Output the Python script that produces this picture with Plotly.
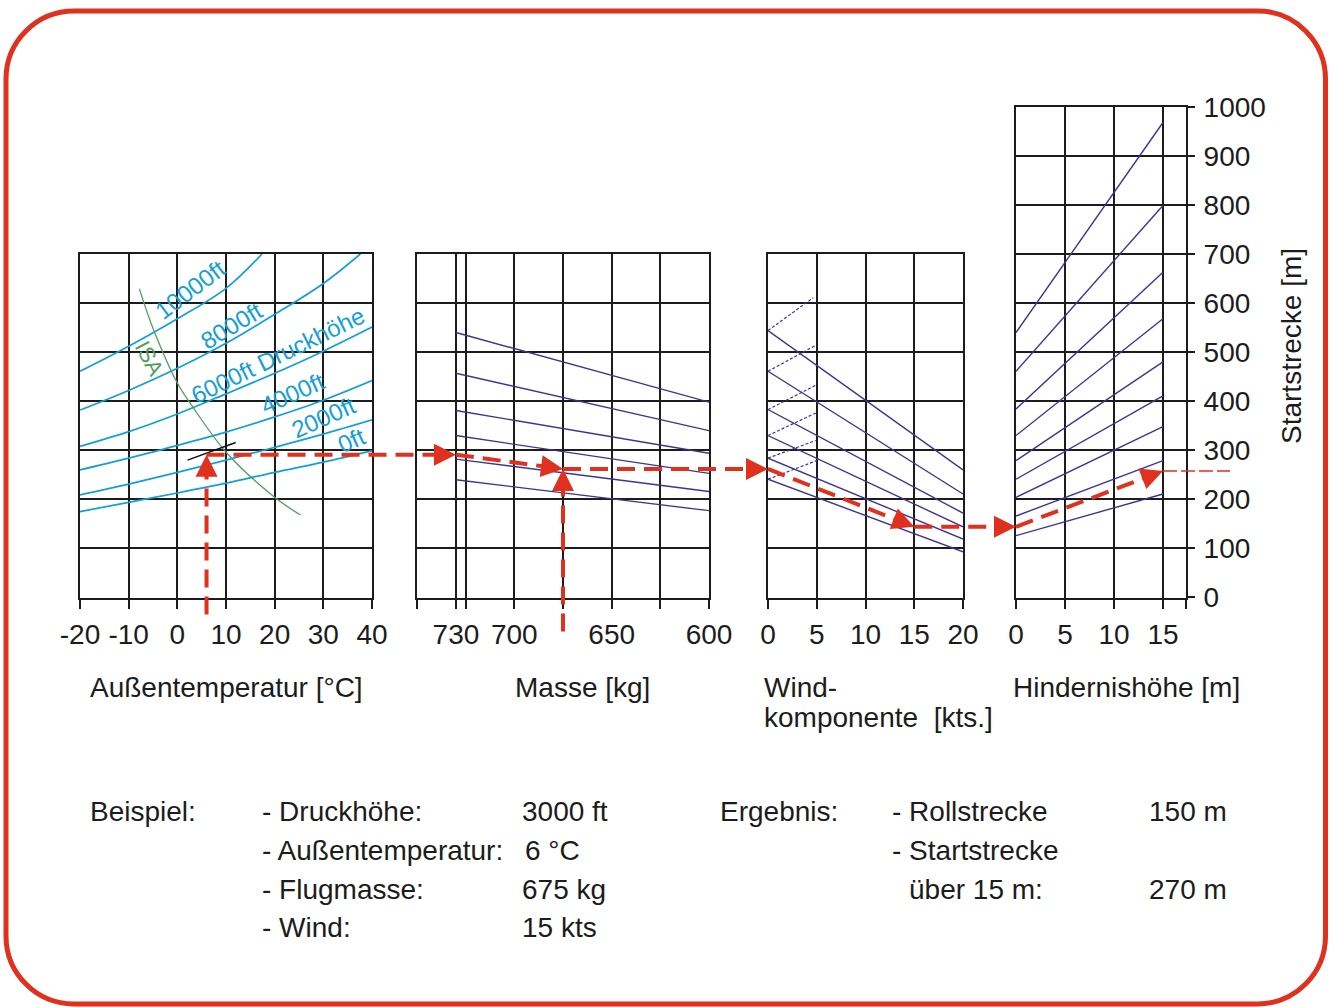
import plotly.graph_objects as go

# ======================= DATA =======================
temp_ticks = [-20, -10, 0, 10, 20, 30, 40]
temp_ticktext = ["-20", "-10", "0", "10", "20", "30", "40"]
mass_ticks = [730, 700, 650, 600]
mass_grid = [750, 725, 700, 675, 650, 625, 600]
wind_ticks = [0, 5, 10, 15, 20]
obst_ticks = [0, 5, 10, 15]
dist_ticks_low = [0, 100, 200, 300, 400, 500, 600, 700]
dist_ticks = [0, 100, 200, 300, 400, 500, 600, 700, 800, 900, 1000]

# pressure-altitude curves: temperature [°C] -> distance [m]
alt_names = ["0ft", "2000ft", "4000ft", "6000ft Druckhöhe", "8000ft", "10000ft"]
alt0_T = [-20, -10, 0, 10, 20, 30, 40]
alt0_D = [175, 194, 213, 233, 255, 276, 299]
alt2000_T = [-20, -10, 0, 10, 20, 30, 40]
alt2000_D = [209, 231, 255, 280, 306, 333, 362]
alt4000_T = [-20, -10, 0, 10, 20, 30, 40]
alt4000_D = [260, 284, 310, 337, 368, 402, 442]
alt6000_T = [-20, -10, 0, 10, 20, 30, 40]
alt6000_D = [308, 338, 374, 415, 457, 502, 551]
alt8000_T = [-20, -10, 0, 10, 20, 30, 37.6]
alt8000_D = [382, 422, 467, 518, 577, 640, 700]
alt10000_T = [-20, -10, 0, 10, 17.4]
alt10000_D = [461, 512, 568, 630, 700]

# ISA line
isa_T = [-7.8, -4.9, 0, 3.4, 10.2, 19.8, 25.3]
isa_D = [629, 546, 437, 385, 294, 206, 168]

# mass panel: lines from 730 kg to 600 kg
mass_from, mass_to = 730, 600
mass_left_D = [540, 457, 381, 330, 282, 240]
mass_right_D = [398, 340, 294, 253, 216, 177]

# wind panel: headwind lines 0 -> 20 kts, tailwind (dotted) 0 -> ~5 kts
wind_from, wind_to = 0, 20
wind_left_D = [544, 461, 383, 330, 284, 241]
wind_right_D = [260, 211, 172, 144, 119, 93]
tail_end_W = [4.65, 4.9, 4.85, 4.9, 4.9, 5.0]
tail_end_D = [611, 514, 432, 376, 320, 279]

# obstacle panel: lines 0 m -> 15 m
obst_from, obst_to = 0, 15
obst_left_D = [540, 461, 384, 330, 279, 241, 204, 166, 126]
obst_right_D = [968, 799, 663, 568, 480, 411, 348, 279, 211]

# worked example
ex_alt = 3000
ex_temp = 6
ex_mass = 675
ex_wind = 15
ex_obst = 15
ex_mark_T = [2.1, 12.0]
ex_mark_D = [280, 316]
guide_D_alt = 291
guide_D_mass = 262
guide_D_wind = 144
guide_D_obst = 258
res_roll = 150
res_start = 270

# ======================= LAYOUT / STYLE =======================
W, H = 1333, 1007
FONT = "Liberation Sans, Arial, sans-serif"
INK = "#1c1c1c"
RED = "#e0301e"
CYAN = "#139fd8"
INDIGO = "#3d3397"
GREEN = "#4f9f5f"
GW = 2

Y0 = 597.5                      # pixel row of distance 0
YS = (597.5 - 254.0) / 700.0    # pixels per metre
PANELS = {
    1: dict(px=(80, 372), rng=(-20, 40)),
    2: dict(px=(417, 709), rng=(750, 600)),
    3: dict(px=(768, 963), rng=(0, 20)),
    4: dict(px=(1016, 1186), rng=(0, 17.35)),
}


def xp(panel, v):
    p = PANELS[panel]
    (a0, a1), (r0, r1) = p["px"], p["rng"]
    return a0 + (v - r0) / (r1 - r0) * (a1 - a0)


def yp(d):
    return Y0 - d * YS


def fx(px):
    return px / W


def fy(py):
    return 1 - py / H


tickfont = dict(family=FONT, size=28, color=INK)


def xaxis(panel, tickvals, anchor, **kw):
    p = PANELS[panel]
    d = dict(domain=[fx(p["px"][0]), fx(p["px"][1])], range=list(p["rng"]),
             tickmode="array", tickvals=tickvals, showgrid=True, gridcolor=INK,
             gridwidth=GW, ticks="outside", ticklen=9, tickwidth=GW, tickcolor=INK,
             showline=True, linecolor=INK, linewidth=GW, mirror=True,
             zeroline=False, tickfont=tickfont, ticklabelstandoff=2, tickangle=0,
             automargin=False, anchor=anchor, fixedrange=True)
    d.update(kw)
    return d


def yaxis(anchor, top_px, rng, tickvals, **kw):
    d = dict(domain=[fy(Y0), fy(top_px)], range=rng, tickmode="array",
             tickvals=tickvals, showgrid=True, gridcolor=INK, gridwidth=GW,
             showticklabels=False, ticks="", showline=True, linecolor=INK,
             linewidth=GW, mirror=True, zeroline=False, anchor=anchor,
             automargin=False, fixedrange=True)
    d.update(kw)
    return d


fig = go.Figure()


def line(xs, ys, xa, ya, color, width, dash="solid", shape="linear"):
    fig.add_trace(go.Scatter(x=xs, y=ys, xaxis=xa, yaxis=ya, mode="lines",
                             line=dict(color=color, width=width, dash=dash,
                                       shape=shape, smoothing=1.0),
                             hoverinfo="skip", showlegend=False))


# ---- panel 1: temperature / pressure altitude ----
for T, D in [(alt0_T, alt0_D), (alt2000_T, alt2000_D), (alt4000_T, alt4000_D),
             (alt6000_T, alt6000_D), (alt8000_T, alt8000_D), (alt10000_T, alt10000_D)]:
    line(T, D, "x", "y", CYAN, 1.7, shape="spline")
line(isa_T, isa_D, "x", "y", GREEN, 1.3, shape="spline")
line(ex_mark_T, ex_mark_D, "x", "y", "#111111", 1.5)

# ---- panel 2: mass ----
for a, b in zip(mass_left_D, mass_right_D):
    line([mass_from, mass_to], [a, b], "x2", "y2", INDIGO, 1.4)

# ---- panel 3: wind ----
for a, b in zip(wind_left_D, wind_right_D):
    line([wind_from, wind_to], [a, b], "x3", "y3", INDIGO, 1.4)
for a, we, de in zip(wind_left_D, tail_end_W, tail_end_D):
    line([wind_from, we], [a, de], "x3", "y3", INDIGO, 1.2, dash="3px,2px")

# ---- panel 4: obstacle ----
for a, b in zip(obst_left_D, obst_right_D):
    line([obst_from, obst_to], [a, b], "x4", "y4", INDIGO, 1.4)

# ---- axes ----
top4 = Y0 - 1000 * YS
fig.update_layout(
    xaxis=xaxis(1, temp_ticks, "y", ticktext=temp_ticktext),
    xaxis2=xaxis(2, mass_ticks, "y2",
                 minor=dict(tickmode="array", tickvals=mass_grid, ticks="outside",
                            ticklen=9, tickwidth=GW, tickcolor=INK, showgrid=True,
                            gridcolor=INK, gridwidth=GW)),
    xaxis3=xaxis(3, wind_ticks, "y3"),
    xaxis4=xaxis(4, obst_ticks, "y4",
                 minor=dict(tickmode="array", tickvals=[PANELS[4]["rng"][1]],
                            ticks="outside", ticklen=9, tickwidth=GW, tickcolor=INK,
                            showgrid=False)),
    yaxis=yaxis("x", 254, [0, 700], dist_ticks_low),
    yaxis2=yaxis("x2", 254, [0, 700], dist_ticks_low),
    yaxis3=yaxis("x3", 254, [0, 700], dist_ticks_low),
    yaxis4=yaxis("x4", top4, [0, 1000], dist_ticks, side="right",
                 showticklabels=True, ticks="outside", ticklen=7, tickwidth=GW,
                 tickcolor=INK, tickfont=tickfont, ticklabelstandoff=3),
)

# ---- annotations ----
ann = []


def text(s, px, py, size=28, color=INK, anchor="left", angle=0):
    ann.append(dict(text=s, x=fx(px), y=fy(py), xref="paper", yref="paper",
                    xanchor=anchor, yanchor="middle", showarrow=False,
                    textangle=angle, font=dict(family=FONT, size=size, color=color)))


# curve labels inside panel 1 (data coordinates of panel 1)
curve_label_pos = [(35.7, 320, -24), (30.0, 367, -24), (23.6, 416, -24),
                   (20.5, 494, -26), (11.2, 554, -31), (2.7, 628, -37)]
for name, (tx, ty, ang) in zip(alt_names, curve_label_pos):
    ann.append(dict(text=name, x=tx, y=ty, xref="x", yref="y", showarrow=False,
                    textangle=ang, font=dict(family=FONT, size=24, color=CYAN)))
ann.append(dict(text="ISA", x=-5.7, y=488, xref="x", yref="y", showarrow=False,
                textangle=62, font=dict(family=FONT, size=22, color=GREEN)))

text("Außentemperatur [°C]", 88, 687)
text("Masse [kg]", 513, 687)
text("Wind-", 762, 687)
text("komponente\u00a0 [kts.]", 762, 717)
text("Hindernishöhe [m]", 1011, 687)
text("Startstrecke [m]", 1292, 346, anchor="center", angle=-90)

text("Beispiel:", 88, 811)
text("- Druckhöhe:", 260, 811)
text(f"{ex_alt} ft", 520, 811)
text("- Außentemperatur:", 260, 850)
text(f"{ex_temp} °C", 523, 850)
text("- Flugmasse:", 260, 889)
text(f"{ex_mass} kg", 520, 889)
text("- Wind:", 260, 927)
text(f"{ex_wind} kts", 520, 927)
text("Ergebnis:", 718, 811)
text("- Rollstrecke", 890, 811)
text(f"{res_roll} m", 1147, 811)
text("- Startstrecke", 890, 850)
text(f"über {ex_obst} m:", 907, 889)
text(f"{res_start} m", 1147, 889)

# ---- red guide path of the worked example ----
shapes = []
AL, AW = 22.0, 22.0


def seg(p, q, arrow=True, width=4, dash="18px,9px"):
    dx, dy = q[0] - p[0], q[1] - p[1]
    n = (dx * dx + dy * dy) ** 0.5
    ux, uy = dx / n, dy / n
    end = (q[0] - (AL - 2) * ux, q[1] - (AL - 2) * uy) if arrow else q
    shapes.append(dict(type="line", xref="paper", yref="paper",
                       x0=fx(p[0]), y0=fy(p[1]), x1=fx(end[0]), y1=fy(end[1]),
                       line=dict(color=RED, width=width, dash=dash), layer="above"))
    if arrow:
        bx, by = q[0] - AL * ux, q[1] - AL * uy
        nx, ny = -uy, ux
        pts = [q, (bx + nx * AW / 2, by + ny * AW / 2), (bx - nx * AW / 2, by - ny * AW / 2)]
        path = "M" + " L".join(f"{fx(a):.5f},{fy(b):.5f}" for a, b in pts) + " Z"
        shapes.append(dict(type="path", xref="paper", yref="paper", path=path,
                           fillcolor=RED, line=dict(width=0), layer="above"))


a_tip = (xp(1, ex_temp), yp(guide_D_alt))
a_start = (xp(1, ex_temp), Y0 + 17)
b_tip = (xp(2, mass_from), yp(guide_D_alt))
c_tip = (xp(2, ex_mass), yp(guide_D_mass))
d_start = (xp(2, ex_mass), Y0 + 34)
e_tip = (xp(3, wind_from), yp(guide_D_mass))
f_tip = (xp(3, ex_wind), yp(guide_D_wind))
g_tip = (xp(4, obst_from), yp(guide_D_wind))
h_tip = (xp(4, ex_obst), yp(guide_D_obst))
i_end = (h_tip[0] + 67, h_tip[1])

seg(a_start, a_tip)
seg(a_tip, b_tip)
seg(b_tip, c_tip)
seg(d_start, c_tip)
seg(c_tip, e_tip)
seg(e_tip, f_tip)
seg(f_tip, g_tip)
seg(g_tip, h_tip)
seg(h_tip, i_end, arrow=False, width=1.5, dash="14px,4px")

# ---- rounded red frame ----
L_, T_, R_, B_, r = 6.0, 11.0, 1325.5, 1004.0, 68.0
k = 0.5523 * r


def P(x, y):
    return f"{fx(x):.5f},{fy(y):.5f}"


frame = ("M" + P(L_ + r, T_) + " L" + P(R_ - r, T_) +
         " C" + P(R_ - r + k, T_) + " " + P(R_, T_ + r - k) + " " + P(R_, T_ + r) +
         " L" + P(R_, B_ - r) +
         " C" + P(R_, B_ - r + k) + " " + P(R_ - r + k, B_) + " " + P(R_ - r, B_) +
         " L" + P(L_ + r, B_) +
         " C" + P(L_ + r - k, B_) + " " + P(L_, B_ - r + k) + " " + P(L_, B_ - r) +
         " L" + P(L_, T_ + r) +
         " C" + P(L_, T_ + r - k) + " " + P(L_ + r - k, T_) + " " + P(L_ + r, T_) + " Z")
shapes.append(dict(type="path", xref="paper", yref="paper", path=frame,
                   line=dict(color=RED, width=5), fillcolor="rgba(0,0,0,0)",
                   layer="above"))

fig.update_layout(width=W, height=H,
                  margin=dict(l=0, r=0, t=0, b=0, pad=0, autoexpand=False),
                  paper_bgcolor="white", plot_bgcolor="white",
                  annotations=ann, shapes=shapes, showlegend=False)

fig.write_html("out.html", config={"displayModeBar": False, "staticPlot": True},
               post_script="document.body.style.margin='0px';")
